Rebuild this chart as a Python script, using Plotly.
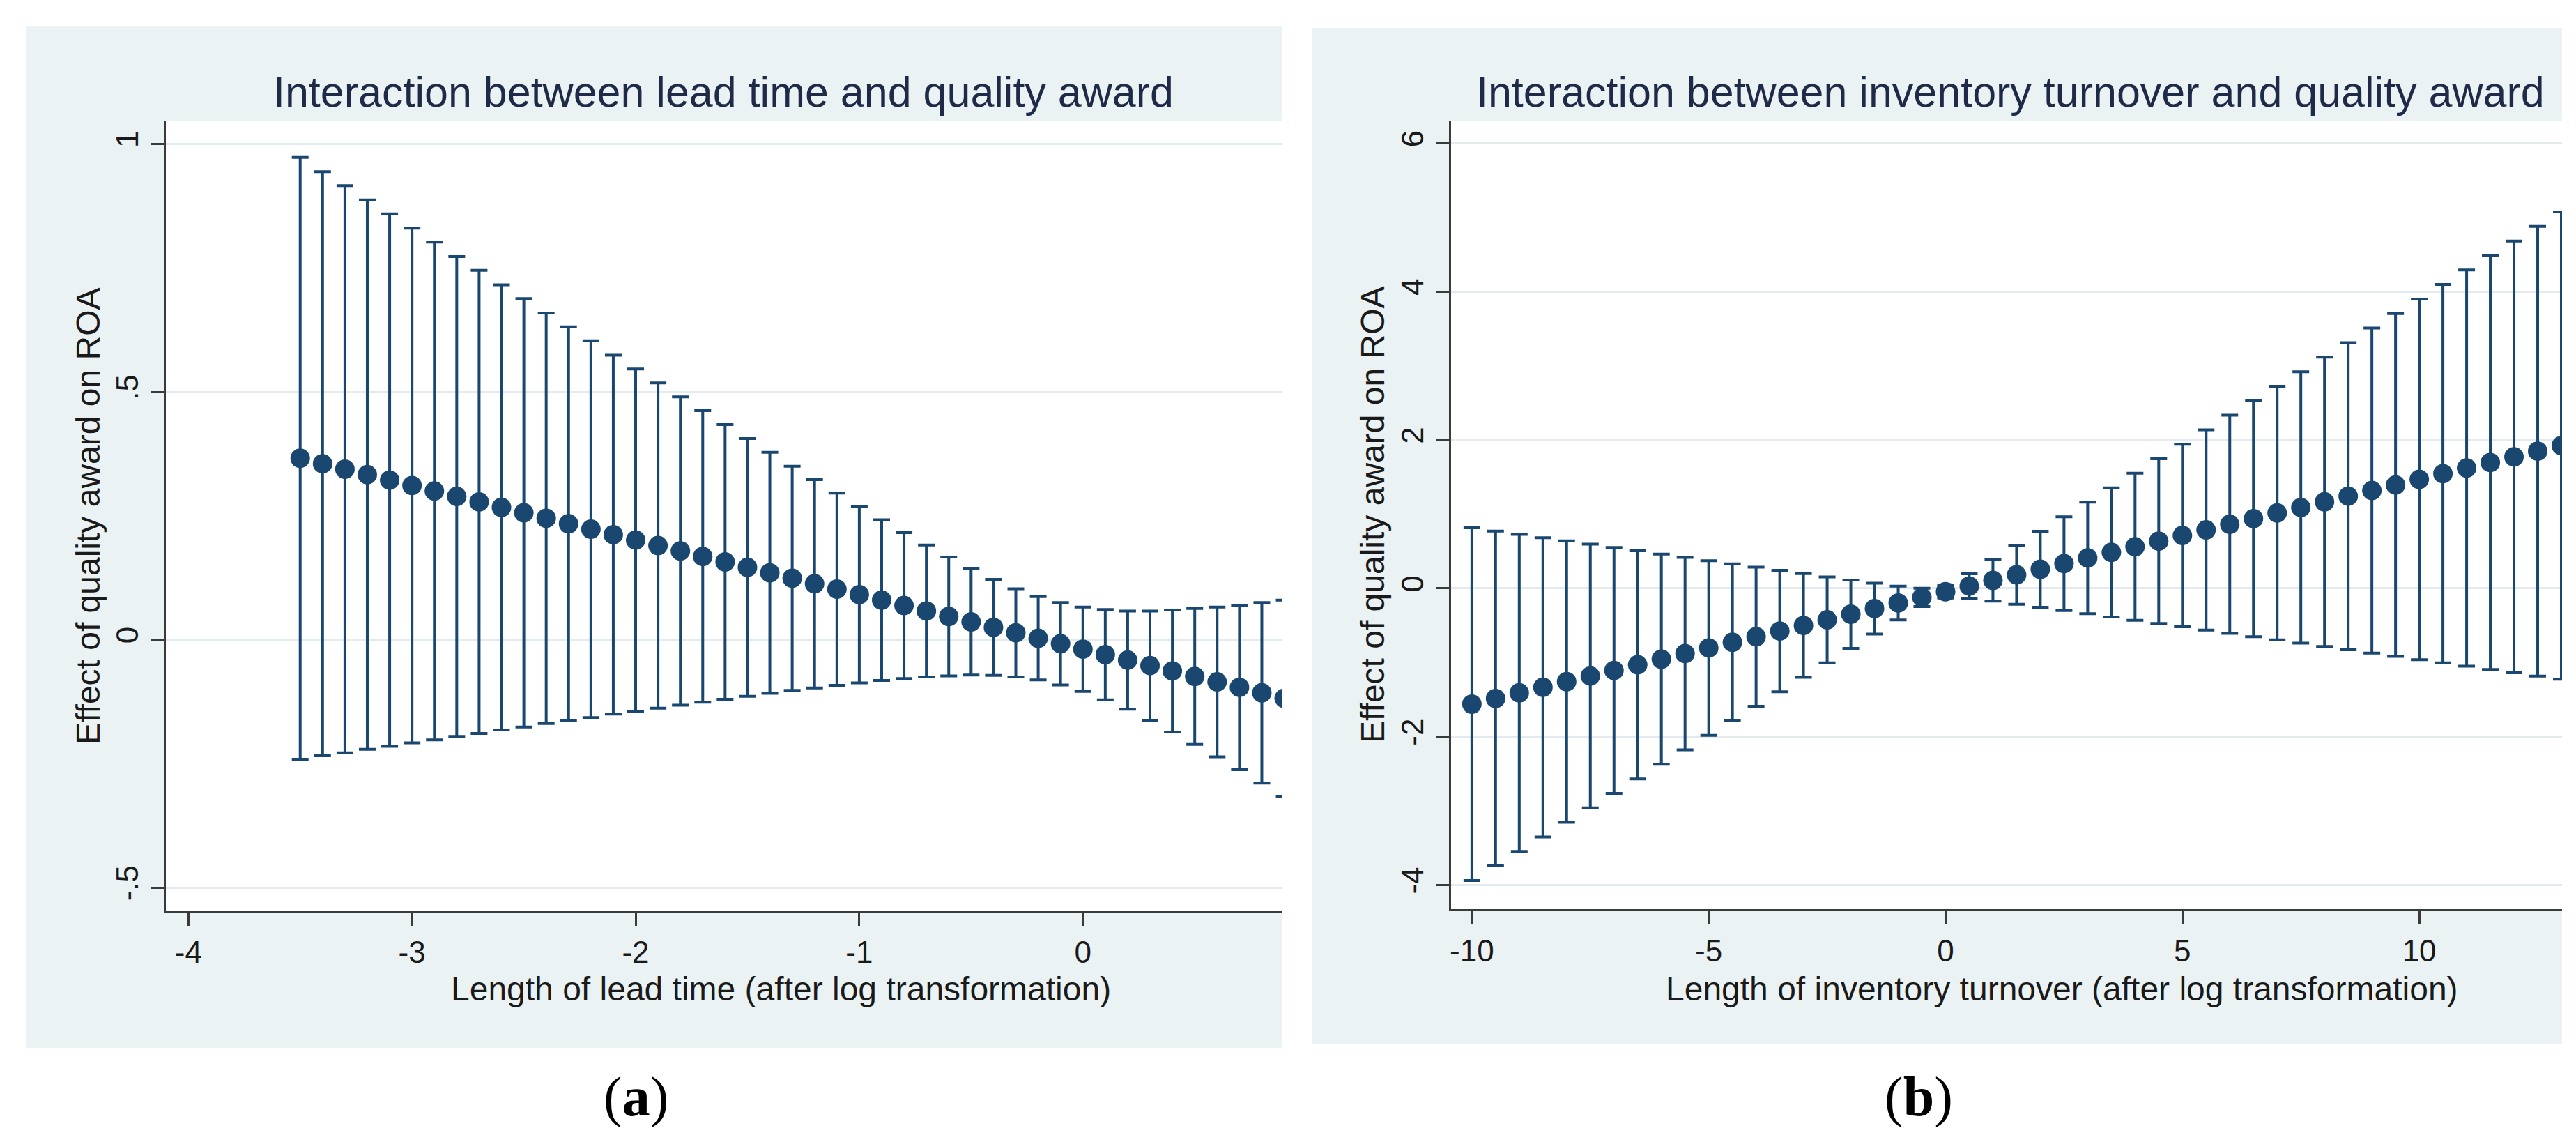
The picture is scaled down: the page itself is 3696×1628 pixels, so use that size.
import plotly.graph_objects as go

W, H = 3696, 1628

# ---------------- data: panel (a) ----------------
lead_time = [-3.5, -3.4, -3.3, -3.2, -3.1, -3.0, -2.9, -2.8, -2.7, -2.6,
             -2.5, -2.4, -2.3, -2.2, -2.1, -2.0, -1.9, -1.8, -1.7, -1.6,
             -1.5, -1.4, -1.3, -1.2, -1.1, -1.0, -0.9, -0.8, -0.7, -0.6,
             -0.5, -0.4, -0.3, -0.2, -0.1, 0.0, 0.1, 0.2, 0.3, 0.4,
             0.5, 0.6, 0.7, 0.8, 0.9]
lead_effect = [0.366, 0.355, 0.344, 0.333, 0.322, 0.311, 0.300, 0.289, 0.278, 0.267,
               0.256, 0.245, 0.234, 0.223, 0.212, 0.201, 0.190, 0.179, 0.168, 0.157,
               0.146, 0.135, 0.124, 0.113, 0.102, 0.091, 0.080, 0.069, 0.058, 0.047,
               0.036, 0.025, 0.014, 0.003, -0.008, -0.019, -0.030, -0.041, -0.052, -0.063,
               -0.074, -0.085, -0.096, -0.107, -0.118]
lead_upper = [0.973, 0.944, 0.916, 0.887, 0.859, 0.830, 0.802, 0.773, 0.745, 0.716,
              0.688, 0.659, 0.631, 0.603, 0.574, 0.546, 0.518, 0.490, 0.462, 0.434,
              0.406, 0.378, 0.350, 0.323, 0.296, 0.269, 0.242, 0.216, 0.191, 0.167,
              0.143, 0.122, 0.103, 0.087, 0.075, 0.066, 0.061, 0.058, 0.058, 0.060,
              0.063, 0.066, 0.070, 0.075, 0.080]
lead_lower = [-0.241, -0.234, -0.228, -0.221, -0.215, -0.208, -0.202, -0.195, -0.189, -0.182,
              -0.176, -0.169, -0.163, -0.157, -0.150, -0.144, -0.138, -0.132, -0.126, -0.120,
              -0.114, -0.108, -0.102, -0.097, -0.092, -0.087, -0.082, -0.078, -0.075, -0.073,
              -0.071, -0.072, -0.075, -0.081, -0.091, -0.104, -0.121, -0.140, -0.162, -0.186,
              -0.211, -0.236, -0.262, -0.289, -0.316]

# ---------------- data: panel (b) ----------------
turnover = [-10, -9.5, -9, -8.5, -8, -7.5, -7, -6.5, -6, -5.5,
            -5, -4.5, -4, -3.5, -3, -2.5, -2, -1.5, -1, -0.5,
            0, 0.5, 1, 1.5, 2, 2.5, 3, 3.5, 4, 4.5,
            5, 5.5, 6, 6.5, 7, 7.5, 8, 8.5, 9, 9.5,
            10, 10.5, 11, 11.5, 12, 12.5, 13]
turn_effect = [-1.560, -1.484, -1.408, -1.333, -1.257, -1.181, -1.106, -1.030, -0.954, -0.878,
               -0.803, -0.727, -0.651, -0.575, -0.500, -0.424, -0.348, -0.272, -0.197, -0.121,
               -0.045, 0.031, 0.107, 0.182, 0.258, 0.334, 0.410, 0.485, 0.561, 0.637,
               0.713, 0.788, 0.864, 0.940, 1.016, 1.091, 1.167, 1.243, 1.319, 1.394,
               1.470, 1.546, 1.622, 1.697, 1.773, 1.849, 1.925]
turn_upper = [0.817, 0.773, 0.729, 0.684, 0.640, 0.596, 0.551, 0.507, 0.463, 0.419,
              0.374, 0.330, 0.287, 0.243, 0.199, 0.155, 0.113, 0.071, 0.031, 0.002,
              0.039, 0.198, 0.385, 0.577, 0.771, 0.966, 1.162, 1.356, 1.552, 1.747,
              1.943, 2.138, 2.334, 2.530, 2.726, 2.921, 3.117, 3.313, 3.509, 3.704,
              3.900, 4.096, 4.292, 4.487, 4.683, 4.879, 5.075]
turn_lower = [-3.937, -3.741, -3.545, -3.350, -3.154, -2.958, -2.763, -2.567, -2.371, -2.175,
              -1.980, -1.784, -1.589, -1.393, -1.199, -1.003, -0.809, -0.615, -0.425, -0.244,
              -0.129, -0.136, -0.171, -0.213, -0.255, -0.298, -0.342, -0.386, -0.430, -0.473,
              -0.517, -0.562, -0.606, -0.650, -0.694, -0.739, -0.783, -0.827, -0.871, -0.916,
              -0.960, -1.004, -1.048, -1.093, -1.137, -1.181, -1.225]

# ---------------- ticks / text ----------------
a_xticks = [-4, -3, -2, -1, 0]
a_xticktext = ["-4", "-3", "-2", "-1", "0"]
a_yticks = [-0.5, 0, 0.5, 1]
a_yticktext = ["-.5", "0", ".5", "1"]
b_xticks = [-10, -5, 0, 5, 10]
b_xticktext = ["-10", "-5", "0", "5", "10"]
b_yticks = [-4, -2, 0, 2, 4, 6]
b_yticktext = ["-4", "-2", "0", "2", "4", "6"]

title_a = "Interaction between lead time and quality award"
title_b = "Interaction between inventory turnover and quality award"
xtitle_a = "Length of lead time (after log transformation)"
xtitle_b = "Length of inventory turnover (after log transformation)"
ytitle = "Effect of quality award on ROA"

# ---------------- style ----------------
NAVY = "#1A476F"
PANEL_BG = "#EAF2F3"
GRID = "#E3EBEE"
AXIS = "#3a3a3a"
TITLE_COL = "#1F2A48"
TEXT_COL = "#1a1a1a"
FONT = "Liberation Sans"


def fx(px):
    return px / W


def fy(py):
    return 1 - py / H


def ci_trace(x, est, up, lo, xa, ya):
    return go.Scatter(
        x=x, y=est, mode="markers", xaxis=xa, yaxis=ya,
        marker=dict(size=28, color=NAVY, line=dict(width=0)),
        error_y=dict(type="data", symmetric=False,
                     array=[u - e for u, e in zip(up, est)],
                     arrayminus=[e - l for e, l in zip(est, lo)],
                     color=NAVY, thickness=4, width=12),
        showlegend=False, hoverinfo="skip")


fig = go.Figure()
fig.add_trace(ci_trace(lead_time, lead_effect, lead_upper, lead_lower, "x", "y"))
fig.add_trace(ci_trace(turnover, turn_effect, turn_upper, turn_lower, "x2", "y2"))

axis_common = dict(showline=True, linecolor=AXIS, linewidth=3, ticks="outside",
                   ticklen=19, tickwidth=3, tickcolor=AXIS, zeroline=False,
                   tickfont=dict(family=FONT, size=44, color=TEXT_COL), fixedrange=True)

fig.update_layout(
    width=W, height=H,
    margin=dict(l=0, r=0, t=0, b=0),
    paper_bgcolor="white",
    plot_bgcolor="rgba(0,0,0,0)",
    xaxis=dict(domain=[fx(228), fx(1830)], range=[-4.101, 0.889], anchor="y",
               tickvals=a_xticks, ticktext=a_xticktext, showgrid=False, **axis_common),
    yaxis=dict(domain=[fy(1298), fy(165)], range=[-0.546, 1.047], anchor="x",
               tickvals=a_yticks, ticktext=a_yticktext, tickangle=-90,
               showgrid=True, gridcolor=GRID, gridwidth=3, **axis_common),
    xaxis2=dict(domain=[fx(2073), fx(3668)], range=[-10.441, 13.015], anchor="y2",
                tickvals=b_xticks, ticktext=b_xticktext, showgrid=False, **axis_common),
    yaxis2=dict(domain=[fy(1296), fy(166)], range=[-4.323, 6.296], anchor="x2",
                tickvals=b_yticks, ticktext=b_yticktext, tickangle=-90,
                showgrid=True, gridcolor=GRID, gridwidth=3, **axis_common),
    shapes=[
        dict(type="rect", xref="paper", yref="paper", x0=fx(27), x1=fx(1830),
             y0=fy(1495), y1=fy(30), fillcolor=PANEL_BG, line=dict(width=0), layer="below"),
        dict(type="rect", xref="paper", yref="paper", x0=fx(228), x1=fx(1830),
             y0=fy(1298), y1=fy(165), fillcolor="white", line=dict(width=0), layer="below"),
        dict(type="rect", xref="paper", yref="paper", x0=fx(1874), x1=fx(3668),
             y0=fy(1490), y1=fy(32), fillcolor=PANEL_BG, line=dict(width=0), layer="below"),
        dict(type="rect", xref="paper", yref="paper", x0=fx(2073), x1=fx(3668),
             y0=fy(1296), y1=fy(166), fillcolor="white", line=dict(width=0), layer="below"),
    ],
)

ann = []
# panel titles
ann.append(dict(text=title_a, x=fx(1029), y=fy(124), xref="paper", yref="paper",
                xanchor="center", yanchor="middle", showarrow=False,
                font=dict(family=FONT, size=61, color=TITLE_COL)))
ann.append(dict(text=title_b, x=fx(2876), y=fy(124), xref="paper", yref="paper",
                xanchor="center", yanchor="middle", showarrow=False,
                font=dict(family=FONT, size=61, color=TITLE_COL)))
# x axis titles
ann.append(dict(text=xtitle_a, x=fx(1111), y=fy(1410), xref="paper", yref="paper",
                xanchor="center", yanchor="middle", showarrow=False,
                font=dict(family=FONT, size=48, color=TEXT_COL)))
ann.append(dict(text=xtitle_b, x=fx(2950), y=fy(1410), xref="paper", yref="paper",
                xanchor="center", yanchor="middle", showarrow=False,
                font=dict(family=FONT, size=48, color=TEXT_COL)))
# y axis titles
ann.append(dict(text=ytitle, x=fx(116), y=fy(732), xref="paper", yref="paper",
                xanchor="center", yanchor="middle", textangle=-90, showarrow=False,
                font=dict(family=FONT, size=48, color=TEXT_COL)))
ann.append(dict(text=ytitle, x=fx(1961), y=fy(730), xref="paper", yref="paper",
                xanchor="center", yanchor="middle", textangle=-90, showarrow=False,
                font=dict(family=FONT, size=48, color=TEXT_COL)))
# captions
ann.append(dict(text="(<b>a</b>)", x=fx(903), y=fy(1565), xref="paper", yref="paper",
                xanchor="center", yanchor="middle", showarrow=False,
                font=dict(family="Liberation Serif", size=80, color="black")))
ann.append(dict(text="(<b>b</b>)", x=fx(2744), y=fy(1565), xref="paper", yref="paper",
                xanchor="center", yanchor="middle", showarrow=False,
                font=dict(family="Liberation Serif", size=80, color="black")))
fig.update_layout(annotations=ann)

fig.write_html("out.html")
